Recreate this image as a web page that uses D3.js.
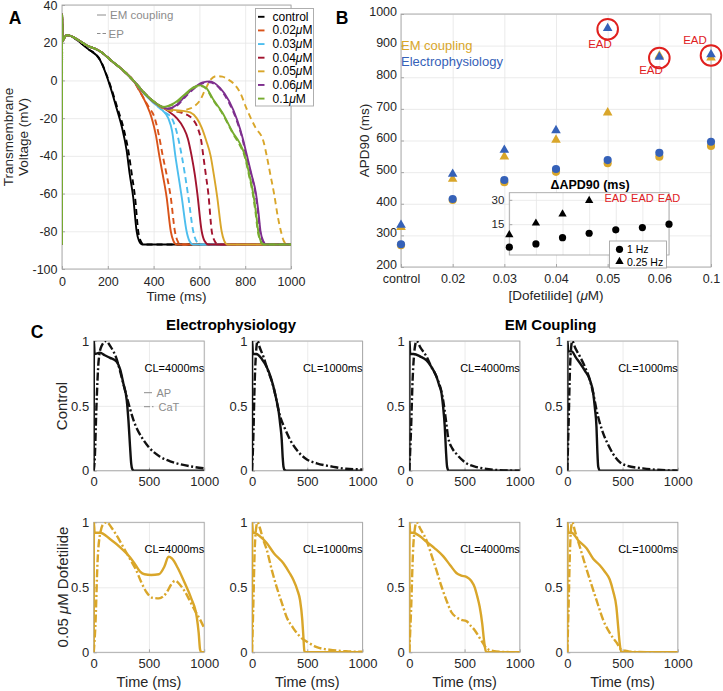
<!DOCTYPE html>
<html><head><meta charset="utf-8">
<script src="https://cdn.jsdelivr.net/npm/d3@7"></script>
<style>body{margin:0;background:#fff}svg{display:block}</style>
</head><body><svg id="c" width="723" height="691"></svg>
<script>
const FONT = '"Liberation Sans", Arial, Helvetica, sans-serif';
const TXT = '#262626', GRID = '#e6e6e6', FRAME = '#a6a6a6';

// ================= Panel A data =================
const concLabels = ['control','0.02','0.03','0.04','0.05','0.06','0.1'];
const concColors = ['#000000','#D95319','#4DBEEE','#A2142F','#D9A62A','#7E2F8E','#77AC30'];
const timeTicksA = [0,200,400,600,800,1000];
const voltTicksA = [-100,-80,-60,-40,-20,0,20,40];
const upstroke = [[0,-87],[0.5,35],[3,21],[8,22],[20,24],[40,23.5],[70,21.5],[110,18.5]];
const plateauDrug = [[166,15.5],[220,10],[270,5],[311,0]];
const ctrlEM = [[0,-87],[0.5,35],[3,21],[8,22],[20,24],[40,23.5],[70,21],[110,17],[166,10.8],[210,-3],[239,-15],[262,-25],[282,-37],[296,-50],[311,-62],[326,-80],[336,-85],[350,-87],[1000,-87]];
const ctrlEP = [[0,-87],[0.5,35],[3,21],[8,22],[20,24],[40,23.5],[70,21],[110,17],[166,11],[212,-3],[243,-15],[268,-25],[292,-39],[305,-50],[319,-62],[333,-80],[343,-85],[357,-87],[1000,-87]];
const d002EM = [[341,-6],[370,-13],[392,-20],[410,-29],[425,-40],[440,-50],[457,-62],[475,-80],[486,-85],[500,-87],[1000,-87]];
const d002EP = [[345,-7],[378,-14],[405,-20],[423,-29],[440,-40],[457,-50],[475,-62],[493,-80],[504,-85],[517,-87],[1000,-87]];
const d003EM = [[350,-6],[400,-12],[440,-16],[464,-20],[481,-27],[495,-40],[509,-51],[523,-62],[544,-80],[556,-85],[573,-87],[1000,-87]];
const d003EP = [[355,-6],[410,-13],[450,-17],[479,-20],[500,-27],[523,-40],[537,-50],[552,-62],[573,-80],[586,-85],[603,-87],[1000,-87]];
const d004EM = [[360,-7],[420,-13],[460,-16],[501,-20],[530,-25],[550,-31],[566,-40],[580,-50],[591,-60],[610,-80],[622,-85],[640,-87],[1000,-87]];
const d004EP = [[370,-8],[430,-14],[480,-16],[520,-17],[550,-18.5],[574,-21],[595,-26],[608,-32],[617,-40],[628,-50],[639,-60],[654,-80],[666,-85],[682,-87],[1000,-87]];
const d005EM = [[370,-8],[430,-14],[470,-15.5],[520,-16],[560,-17],[588,-20],[610,-25],[630,-32],[649,-40],[663,-50],[678,-62],[697,-80],[708,-85],[722,-87],[1000,-87]];
const d005EP = [[370,-8],[430,-14],[470,-16],[510,-16.5],[544,-15.5],[580,-13.5],[603,-10.5],[625,-5],[650,0.5],[675,2.3],[700,2],[725,0.5],[748,-1.5],[780,-7],[806,-15],[845,-25],[879,-32],[894,-40],[910,-50],[926,-60],[942,-72],[956,-80],[968,-85],[985,-87],[1000,-87]];
const d006EM = [[370,-8],[428,-13.5],[460,-15],[500,-13],[540,-8],[580,-3.5],[615,-1],[646,-0.5],[690,-4],[730,-11],[765,-21],[790,-31],[806,-39],[828,-50],[847,-60],[858,-70],[867,-80],[878,-85],[892,-87],[1000,-87]];
const d006EP = [[370,-8],[428,-13.5],[460,-15],[500,-13.5],[540,-8.5],[580,-4],[615,-1.5],[643,-1],[690,-4.5],[730,-12],[765,-22],[790,-32],[804,-40],[826,-50],[845,-60],[856,-70],[865,-80],[876,-85],[890,-87],[1000,-87]];
const d01EM = [[370,-8],[410,-12],[441,-14],[490,-12],[544,-6.5],[575,-3.5],[603,-2.6],[630,-4],[660,-10],[700,-17],[748,-28],[775,-33],[799,-40],[818,-50],[835,-60],[847,-70],[857,-80],[867,-85],[880,-87],[1000,-87]];
const d01EP = [[370,-8],[410,-12],[441,-14],[490,-12.5],[544,-7],[575,-4],[603,-3],[630,-4.5],[660,-10.5],[700,-17.5],[748,-28.5],[775,-34],[797,-40],[816,-50],[833,-60],[845,-70],[855,-80],[866,-85],[880,-87],[1000,-87]];
const tracesEM = [ctrlEM, upstroke.concat(plateauDrug,d002EM), upstroke.concat(plateauDrug,d003EM), upstroke.concat(plateauDrug,d004EM), upstroke.concat(plateauDrug,d005EM), upstroke.concat(plateauDrug,d006EM), upstroke.concat(plateauDrug,d01EM)];
const tracesEP = [ctrlEP, upstroke.concat(plateauDrug,d002EP), upstroke.concat(plateauDrug,d003EP), upstroke.concat(plateauDrug,d004EP), upstroke.concat(plateauDrug,d005EP), upstroke.concat(plateauDrug,d006EP), upstroke.concat(plateauDrug,d01EP)];

// ================= Panel B data =================
const categories = ['control','0.02','0.03','0.04','0.05','0.06','0.1'];
const apdTicks = [200,300,400,500,600,700,800,900,1000];
const emTri = [326,478,549,602,688,868,862];
const epTri = [333,494,570,632,955,864,872];
const emCirc = [269,412,468,501,528,549,583];
const epCirc = [272,415,475,510,538,561,596];
const eadIdx = [4,5,6];
const insetPos = ['p0','p1','p2','p3','p4','p5','p6'];
const deltaTri = [8.4,15.6,21.2,29.6];
const deltaCirc = [0.8,2.8,6.7,9.4,11.5,12.9,15];
const insetEADIdx = [4,5,6];
const insetTicks = [15,30];

// ================= Panel C data =================
const timeTicksC = [0,500,1000];
const normTicksC = [0,0.5,1];
const epCtl4000AP = [[0,0],[2,1],[8,0.9],[57,0.91],[100,0.89],[148,0.87],[208,0.84],[240,0.78],[269,0.67],[299,0.545],[315,0.38],[329,0.185],[340,0.05],[350,0.01],[365,0],[1000,0]];
const epCtl4000CaT = [[0,0],[10,0.1],[25,0.5],[45,0.85],[70,0.96],[112,1],[150,0.96],[208,0.86],[250,0.73],[299,0.57],[360,0.39],[450,0.237],[500,0.18],[600,0.108],[700,0.07],[782,0.05],[900,0.03],[1000,0.018]];
const epCtl1000AP = [[0,0],[2,1],[8,0.9],[40,0.9],[90,0.86],[133,0.8],[170,0.72],[193,0.65],[220,0.55],[239,0.47],[255,0.36],[269,0.24],[278,0.1],[285,0.03],[295,0.005],[310,0],[1000,0]];
const epCtl1000CaT = [[0,0],[10,0.2],[25,0.7],[40,0.95],[51,1],[70,0.95],[103,0.88],[133,0.8],[193,0.65],[254,0.42],[300,0.32],[344,0.24],[435,0.13],[500,0.085],[586,0.057],[737,0.03],[850,0.015],[1000,0.01]];
const emCtl4000AP = [[0,0],[2,1],[8,0.9],[40,0.9],[100,0.88],[156,0.85],[200,0.8],[246,0.725],[270,0.66],[291,0.6],[305,0.5],[321,0.34],[332,0.15],[342,0.03],[355,0],[1000,0]];
const emCtl4000CaT = [[0,0],[15,0.3],[30,0.7],[50,0.95],[66,1],[100,0.95],[156,0.88],[200,0.8],[246,0.725],[306,0.545],[330,0.4],[351,0.26],[390,0.17],[426,0.13],[517,0.057],[600,0.03],[667,0.018],[800,0.005],[1000,0]];
const emCtl1000AP = [[0,0],[2,1],[8,0.92],[39,0.92],[80,0.87],[114,0.83],[160,0.77],[204,0.7],[234,0.6],[250,0.48],[264,0.34],[272,0.15],[280,0.03],[295,0],[1000,0]];
const emCtl1000CaT = [[0,0],[10,0.3],[25,0.8],[35,0.95],[45,1],[70,0.95],[114,0.88],[160,0.8],[204,0.7],[234,0.6],[264,0.47],[324,0.29],[370,0.2],[414,0.13],[470,0.07],[535,0.04],[685,0.018],[850,0.005],[1000,0]];
const epDof4000AP = [[0,0],[2,1],[8,0.92],[57,0.92],[150,0.87],[250,0.8],[330,0.73],[380,0.67],[420,0.62],[460,0.6],[520,0.595],[590,0.6],[640,0.66],[677,0.736],[710,0.72],[760,0.65],[820,0.54],[880,0.42],[933,0.27],[950,0.15],[963,0.02],[975,0],[1000,0]];
const epDof4000CaT = [[0,0],[15,0.2],[35,0.7],[60,0.92],[90,0.99],[118,1],[160,0.96],[200,0.91],[280,0.79],[340,0.7],[380,0.64],[430,0.54],[480,0.46],[530,0.42],[590,0.415],[660,0.46],[700,0.52],[737,0.55],[780,0.52],[830,0.46],[880,0.38],[930,0.3],[970,0.24],[1000,0.185]];
const epDof1000AP = [[0,0],[2,1],[8,0.92],[20,0.92],[60,0.9],[133,0.84],[200,0.76],[284,0.685],[340,0.61],[375,0.556],[410,0.48],[435,0.4],[455,0.25],[465,0.12],[474,0.01],[485,0],[1000,0]];
const epDof1000CaT = [[0,0],[10,0.3],[25,0.8],[40,0.97],[50,1],[70,0.96],[100,0.87],[133,0.79],[180,0.63],[224,0.5],[270,0.38],[314,0.27],[370,0.19],[435,0.12],[500,0.08],[586,0.04],[700,0.02],[850,0.008],[1000,0.004]];
const emDof4000AP = [[0,0],[2,1],[8,0.92],[36,0.92],[100,0.89],[156,0.85],[230,0.8],[306,0.74],[370,0.67],[426,0.61],[470,0.59],[517,0.58],[560,0.55],[592,0.5],[615,0.43],[637,0.35],[660,0.22],[675,0.1],[684,0.04],[697,0],[1000,0]];
const emDof4000CaT = [[0,0],[15,0.3],[35,0.8],[50,0.95],[65,1],[100,0.95],[156,0.86],[200,0.75],[246,0.63],[290,0.51],[336,0.4],[380,0.31],[426,0.27],[470,0.25],[517,0.24],[560,0.2],[592,0.17],[630,0.12],[667,0.07],[700,0.03],[757,0.01],[850,0.003],[1000,0]];
const emDof1000AP = [[0,0],[2,1],[8,0.92],[39,0.92],[100,0.86],[174,0.8],[234,0.72],[294,0.67],[340,0.62],[384,0.56],[415,0.47],[444,0.35],[460,0.2],[474,0.07],[489,0],[1000,0]];
const emDof1000CaT = [[0,0],[10,0.3],[25,0.8],[35,0.96],[45,1],[70,0.93],[114,0.81],[170,0.65],[234,0.48],[280,0.36],[324,0.25],[370,0.17],[414,0.11],[450,0.07],[489,0.02],[540,0.01],[600,0.003],[1000,0]];
const cycleLabels = ['CL=4000ms','CL=1000ms','CL=4000ms','CL=1000ms'];
const rowLabels = ['Control','0.05 μM Dofetilide'];
const colTitles = ['Electrophysiology','EM Coupling'];

// ================= helpers =================
const svg = d3.select('#c');
function styleText(sel, fs, fill){ sel.attr('font-family',FONT).attr('font-size',fs).attr('fill',fill||TXT); }
let clipId = 0;
function axesBox(g, x, y, o){
  const [x0,x1] = x.range(), [y0,y1] = y.range();
  const w = x1-x0, h = y0-y1;
  g.append('g').attr('transform',`translate(0,${y0})`)
    .call(d3.axisBottom(x).tickValues(o.xg).tickSize(-h).tickFormat(''))
    .call(s=>{s.select('.domain').remove(); s.selectAll('line').attr('stroke',GRID).attr('stroke-width',0.8);});
  g.append('g').attr('transform',`translate(${x0},0)`)
    .call(d3.axisLeft(y).tickValues(o.yg).tickSize(-w).tickFormat(''))
    .call(s=>{s.select('.domain').remove(); s.selectAll('line').attr('stroke',GRID).attr('stroke-width',0.8);});
  g.append('rect').attr('x',x0).attr('y',y1).attr('width',w).attr('height',h)
    .attr('fill','none').attr('stroke',FRAME).attr('stroke-width',0.9);
  if (o.xt) g.append('g').attr('transform',`translate(0,${y0})`)
    .call(d3.axisBottom(x).tickValues(o.xt).tickSize(-3).tickPadding(o.xpad).tickFormat(o.xf||(d=>d)))
    .call(s=>{s.select('.domain').remove(); s.selectAll('line').attr('stroke',FRAME);
      s.selectAll('text').call(t=>styleText(t,o.fs)); });
  if (o.yt) g.append('g').attr('transform',`translate(${x0},0)`)
    .call(d3.axisLeft(y).tickValues(o.yt).tickSize(-3).tickPadding(o.ypad).tickFormat(o.yf||(d=>d)))
    .call(s=>{s.select('.domain').remove(); s.selectAll('line').attr('stroke',FRAME);
      s.selectAll('text').call(t=>styleText(t,o.fs)); if (o.ydy) s.selectAll('text').attr('dy',o.ydy); });
  const id = 'clip'+(clipId++);
  g.append('clipPath').attr('id',id).append('rect').attr('x',x0).attr('y',y1).attr('width',w).attr('height',h);
  return id;
}
function bold(g,x,y,txt,fs,anchor){
  return g.append('text').attr('x',x).attr('y',y).attr('text-anchor',anchor||'middle')
    .attr('dominant-baseline','central').attr('font-weight','bold').call(t=>styleText(t,fs,'#000')).text(txt);
}
function muText(sel, before, after){
  sel.append('tspan').text(before);
  sel.append('tspan').attr('font-style','italic').text('μ');
  sel.append('tspan').text(after);
}

// ================= Panel A =================
const gA = svg.append('g');
const xA = d3.scaleLinear().domain([0,1000]).range([62,291]);
const yA = d3.scaleLinear().domain([-100,40]).range([269,5]);
const clipA = axesBox(gA, xA, yA, {xg:timeTicksA, yg:voltTicksA, xt:timeTicksA, yt:voltTicksA, fs:12.5, xpad:8, ypad:4.5});
const lineA = d3.line().x(d=>xA(d[0])).y(d=>yA(d[1])).curve(d3.curveMonotoneX);
const curvesA = gA.append('g').attr('clip-path',`url(#${clipA})`);
concLabels.forEach((c,i)=>{
  curvesA.append('path').attr('d',lineA(tracesEM[i])).attr('fill','none').attr('stroke',concColors[i]).attr('stroke-width',1.9);
  curvesA.append('path').attr('d',lineA(tracesEP[i])).attr('fill','none').attr('stroke',concColors[i]).attr('stroke-width',1.9).attr('stroke-dasharray','6,4');
});
bold(gA,15,18,'A',17.5);
gA.append('text').attr('x',176.5).attr('y',301).attr('text-anchor','middle').call(t=>styleText(t,13.5)).text('Time (ms)');
const yLabA = gA.append('text').attr('transform','translate(13,137) rotate(-90)').attr('text-anchor','middle').call(t=>styleText(t,13.5));
yLabA.append('tspan').attr('x',0).attr('dy',0).text('Transmembrane');
yLabA.append('tspan').attr('x',0).attr('dy',15).text('Voltage (mV)');
gA.append('line').attr('x1',97).attr('x2',106).attr('y1',15).attr('y2',15).attr('stroke','#8c8c8c').attr('stroke-width',1);
gA.append('text').attr('x',110).attr('y',15).attr('dominant-baseline','central').call(t=>styleText(t,11.5,'#8c8c8c')).text('EM coupling');
gA.append('line').attr('x1',97).attr('x2',106).attr('y1',33.5).attr('y2',33.5).attr('stroke','#8c8c8c').attr('stroke-width',1).attr('stroke-dasharray','3.5,2');
gA.append('text').attr('x',108.5).attr('y',33.5).attr('dominant-baseline','central').call(t=>styleText(t,11.5,'#8c8c8c')).text('EP');
gA.append('rect').attr('x',255.5).attr('y',8.5).attr('width',58).attr('height',97.5).attr('fill','#fff').attr('stroke','#a6a6a6').attr('stroke-width',0.9);
const legY = d3.scaleLinear().domain([0,6]).range([16.8,98.6]);
concLabels.forEach((c,i)=>{
  gA.append('line').attr('x1',258).attr('x2',264.5).attr('y1',legY(i)).attr('y2',legY(i)).attr('stroke',concColors[i]).attr('stroke-width',1.9);
  const t = gA.append('text').attr('x',272.5).attr('y',legY(i)).attr('dominant-baseline','central').call(s=>styleText(s,12,'#000'));
  if (i===0) t.text(c); else muText(t, c, 'M');
});

// ================= Panel B =================
const gB = svg.append('g');
const xB = d3.scalePoint().domain(categories).range([401,711]);
const yB = d3.scaleLinear().domain([200,1000]).range([267,14]);
axesBox(gB, xB, yB, {xg:categories, yg:apdTicks, xt:categories, yt:apdTicks, fs:12.5, xpad:7.5, ypad:4, ydy:'0.1em'});
const GOLD = '#D9A62A', BLUE = '#3561B8';
const tri = d3.symbol(d3.symbolTriangle, 40);
const dot = d3.symbol(d3.symbolCircle, 52);
function markers(vals, sym, col){
  gB.append('g').selectAll('path').data(vals).join('path')
    .attr('transform',(d,i)=>`translate(${xB(categories[i])},${yB(d)})`).attr('d',sym).attr('fill',col);
}
markers(emCirc, dot, GOLD); markers(emTri, tri, GOLD);
markers(epCirc, dot, BLUE); markers(epTri, tri, BLUE);
gB.append('g').selectAll('circle').data(eadIdx).join('circle')
  .attr('cx',i=>xB(categories[i])).attr('cy',i=>yB(epTri[i]-3)).attr('r',10.3)
  .attr('fill','none').attr('stroke','#E0201E').attr('stroke-width',2);
const eadPos = [[600,43.5],[651,69.5],[695,39.5]];
eadIdx.forEach((i,k)=>{
  gB.append('text').attr('x',eadPos[k][0]).attr('y',eadPos[k][1]).attr('text-anchor','middle').attr('dominant-baseline','central')
    .call(t=>styleText(t,11.5,'#E0201E')).text('EAD');
});
gB.append('text').attr('x',401).attr('y',45).attr('dominant-baseline','central').call(t=>styleText(t,13,GOLD)).text('EM coupling');
gB.append('text').attr('x',401).attr('y',61.5).attr('dominant-baseline','central').call(t=>styleText(t,13,BLUE)).text('Electrophysiology');
bold(gB,342,18,'B',17.5);
gB.append('text').attr('transform','translate(369,140.5) rotate(-90)').attr('text-anchor','middle').call(t=>styleText(t,13.5)).text('APD90 (ms)');
const xlabB = gB.append('text').attr('x',556).attr('y',300).attr('text-anchor','middle').call(t=>styleText(t,13.5));
muText(xlabB,'[Dofetilide] (','M)');

// inset
const gI = svg.append('g');
const xI = d3.scalePoint().domain(insetPos).range([509.3,669]);
const yI = d3.scaleLinear().domain([-4,34.4]).range([255,192.7]);
gI.append('rect').attr('x',509.3).attr('y',192.7).attr('width',159.7).attr('height',62.3).attr('fill','#fff');
axesBox(gI, xI, yI, {xg:insetPos, yg:insetTicks, yt:insetTicks, fs:11.5, ypad:5});
const triI = d3.symbol(d3.symbolTriangle, 30);
gI.append('g').selectAll('path').data(deltaCirc).join('circle')
  .attr('cx',(d,i)=>xI(insetPos[i])).attr('cy',d=>yI(d)).attr('r',3.6).attr('fill','#000');
gI.append('g').selectAll('path').data(deltaTri).join('path')
  .attr('transform',(d,i)=>`translate(${xI(insetPos[i])},${yI(d)})`).attr('d',triI).attr('fill','#000');
insetEADIdx.forEach(i=>{
  gI.append('text').attr('x',xI(insetPos[i])).attr('y',198).attr('text-anchor','middle').attr('dominant-baseline','central')
    .call(t=>styleText(t,11,'#E0201E')).text('EAD');
});
gI.append('text').attr('x',590).attr('y',185).attr('text-anchor','middle').attr('dominant-baseline','central')
  .attr('font-weight','bold').call(t=>styleText(t,12.5,'#000')).text('ΔAPD90 (ms)');
gI.append('rect').attr('x',609.5).attr('y',241).attr('width',57).attr('height',27).attr('fill','#fff').attr('stroke','#a6a6a6').attr('stroke-width',0.9);
gI.append('circle').attr('cx',619.5).attr('cy',249.3).attr('r',3.6).attr('fill','#000');
gI.append('path').attr('transform','translate(619.5,261.5)').attr('d',triI).attr('fill','#000');
gI.append('text').attr('x',627).attr('y',249.3).attr('dominant-baseline','central').call(t=>styleText(t,10.5,'#000')).text('1 Hz');
gI.append('text').attr('x',627).attr('y',261.7).attr('dominant-baseline','central').call(t=>styleText(t,10.5,'#000')).text('0.25 Hz');

// ================= Panel C =================
const gC = svg.append('g');
const colX = [93.7, 252, 409.3, 567.3], colW = 110.5;
const rowY = [[341,470.7],[522.3,652.3]];
const panelsC = [
  [epCtl4000AP,epCtl4000CaT],[epCtl1000AP,epCtl1000CaT],[emCtl4000AP,emCtl4000CaT],[emCtl1000AP,emCtl1000CaT],
  [epDof4000AP,epDof4000CaT],[epDof1000AP,epDof1000CaT],[emDof4000AP,emDof4000CaT],[emDof1000AP,emDof1000CaT]
];
const rowColors = ['#111111', GOLD];
panelsC.forEach((p,k)=>{
  const r = Math.floor(k/4), c = k%4;
  const x = d3.scaleLinear().domain([0,1000]).range([colX[c], colX[c]+colW]);
  const y = d3.scaleLinear().domain([0,1]).range([rowY[r][1], rowY[r][0]]);
  const g = gC.append('g');
  const cid = axesBox(g, x, y, {xg:timeTicksC, yg:normTicksC, xt:timeTicksC, yt:normTicksC, fs:13, xpad:6, ypad:4.5});
  const ln = d3.line().x(d=>x(d[0])).y(d=>y(d[1])).curve(d3.curveMonotoneX);
  const cg = g.append('g').attr('clip-path',`url(#${cid})`);
  cg.append('path').attr('d',ln(p[1])).attr('fill','none').attr('stroke',rowColors[r]).attr('stroke-width',2.4).attr('stroke-dasharray','8,2.5,2,2.5');
  cg.append('path').attr('d',ln(p[0])).attr('fill','none').attr('stroke',rowColors[r]).attr('stroke-width',2.4);
  g.append('text').attr('x',colX[c]+colW).attr('y',r===0?367.7:549).attr('text-anchor','end').attr('dominant-baseline','central')
    .call(t=>styleText(t,11,'#000')).text(cycleLabels[c]);
  if (r===1) g.append('text').attr('x',colX[c]+colW/2).attr('y',687).attr('text-anchor','middle').call(t=>styleText(t,14.5)).text('Time (ms)');
});
bold(gC,231,324,colTitles[0],15);
bold(gC,550.5,324,colTitles[1],15);
bold(gC,37,331.7,'C',17.5);
gC.append('text').attr('transform','translate(61.7,406) rotate(-90)').attr('text-anchor','middle').attr('dominant-baseline','central')
  .call(t=>styleText(t,15)).text(rowLabels[0]);
const rl = gC.append('text').attr('transform','translate(61.7,587) rotate(-90)').attr('text-anchor','middle').attr('dominant-baseline','central')
  .call(t=>styleText(t,15));
muText(rl,'0.05 ','M Dofetilide');
gC.append('line').attr('x1',144).attr('x2',152).attr('y1',392.7).attr('y2',392.7).attr('stroke','#8c8c8c').attr('stroke-width',1);
gC.append('text').attr('x',156.5).attr('y',392.7).attr('dominant-baseline','central').call(t=>styleText(t,11,'#8c8c8c')).text('AP');
gC.append('line').attr('x1',144).attr('x2',155).attr('y1',406.7).attr('y2',406.7).attr('stroke','#8c8c8c').attr('stroke-width',1).attr('stroke-dasharray','6,2,1.5,2');
gC.append('text').attr('x',158.5).attr('y',406.7).attr('dominant-baseline','central').call(t=>styleText(t,11,'#8c8c8c')).text('CaT');
</script></body></html>
